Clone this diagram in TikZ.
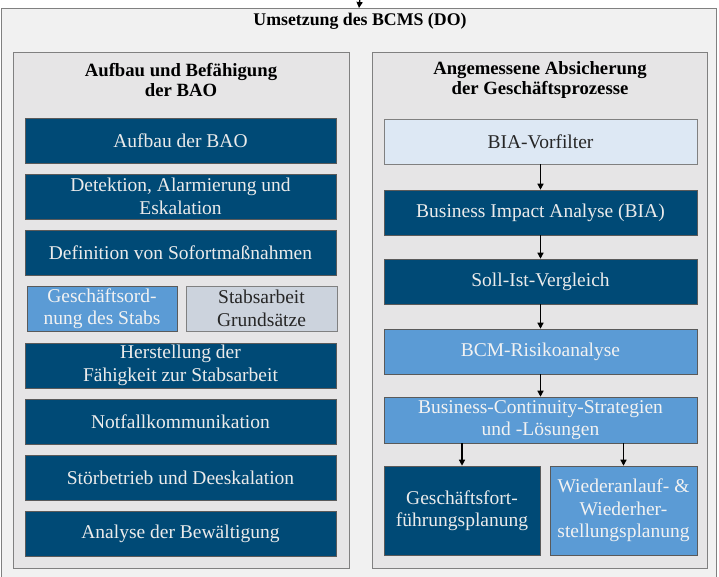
\documentclass[tikz,border=0pt]{standalone}
\usepackage{fontspec}
\setmainfont{Liberation Serif}
\usetikzlibrary{arrows.meta}
\definecolor{darkblue}{RGB}{0,74,118}
\definecolor{midblue}{RGB}{91,155,213}
\definecolor{paleblue}{RGB}{221,232,244}
\definecolor{palegray}{RGB}{204,211,221}
\definecolor{panelfill}{RGB}{230,229,230}
\definecolor{outerfill}{RGB}{241,241,241}
\definecolor{framegray}{RGB}{128,128,128}
\begin{document}
\begin{tikzpicture}[x=1pt,y=-1pt,
  every node/.style={font=\fontsize{19.5}{22.5}\selectfont, align=center, inner sep=0pt},
  frame/.style={draw=framegray, line width=1pt, fill=panelfill},
  darkbox/.style={draw=framegray!70!black, line width=0.6pt, fill=darkblue, text=white!92!black},
  midbox/.style={draw=framegray!70!black, line width=0.6pt, fill=midblue, text=white!95!black},
  palebox/.style={draw=framegray, line width=0.6pt, fill=paleblue, text=black!85},
  graybox/.style={draw=framegray, line width=0.6pt, fill=palegray, text=black!85},
  wide/.style={minimum width=311pt, minimum height=45pt},
  rwide/.style={minimum width=313pt, minimum height=45pt},
  title/.style={font=\bfseries\fontsize{18.7}{20.5}\selectfont},
  flow/.style={-{Triangle[length=6pt,width=6pt]}, line width=1.3pt, black}]
\useasboundingbox (0,0) rectangle (719,576);
\fill[white] (0,0) rectangle (719,576);

% outer frame, running past the lower edge
\node[draw=framegray, line width=1pt, fill=outerfill, minimum width=715pt, minimum height=582pt, anchor=north west] (outer) at (1,8) {};
\coordinate (topin) at (360,-2);
\draw[flow] (topin) -- (outer.north);
\node[title, font=\bfseries\fontsize{17.8}{20}\selectfont] (maintitle) at (360,21) {Umsetzung des BCMS (DO)};

% two panels
\node[frame, minimum width=336pt, minimum height=516pt, anchor=north west] (left) at (13,52) {};
\node[frame, minimum width=335pt, minimum height=516pt, anchor=north west] (right) at (372,52) {};
\node[title] (lefttitle) at (181,80) {Aufbau und Befähigung\\der BAO};
\node[title] (righttitle) at (540,80) {Angemessene Absicherung\\der Geschäftsprozesse};

% left column
\node[darkbox, wide] (a1) at (180.5,140.5) {Aufbau der BAO};
\node[darkbox, wide] (a2) at (180.5,196.5) {Detektion, Alarmierung und\\Eskalation};
\node[darkbox, wide] (a3) at (180.5,252.5) {Definition von Sofortmaßnahmen};
\node[midbox, minimum width=150pt, minimum height=45pt] (a4) at (102,308.5) {Geschäftsord-\\nung des Stabs};
\node[graybox, minimum width=151pt, minimum height=45pt] (a5) at (261.5,308.5) {Stabsarbeit\\Grundsätze};
\node[darkbox, wide] (a6) at (180.5,365.5) {Herstellung der\\Fähigkeit zur Stabsarbeit};
\node[darkbox, wide] (a7) at (180.5,421.5) {Notfallkommunikation};
\node[darkbox, wide] (a8) at (180.5,477.5) {Störbetrieb und Deeskalation};
\node[darkbox, wide] (a9) at (180.5,533.5) {Analyse der Bewältigung};

% right column
\node[palebox, rwide] (b1) at (540.5,141.5) {BIA-Vorfilter};
\node[darkbox, rwide] (b2) at (540.5,212.5) {Business Impact Analyse (BIA)};
\node[darkbox, rwide] (b3) at (540.5,281.5) {Soll-Ist-Vergleich};
\node[midbox, rwide] (b4) at (540.5,351.5) {BCM-Risikoanalyse};
\node[midbox, minimum width=313pt, minimum height=46pt] (b5) at (540.5,420) {Business-Continuity-Strategien\\und -Lösungen};
\node[darkbox, minimum width=156pt, minimum height=89pt] (b6) at (462,510.5) {Geschäftsfort-\\führungsplanung};
\node[midbox, minimum width=147pt, minimum height=89pt] (b7) at (623.5,510.5) {Wiederanlauf- \&\\Wiederher-\\stellungsplanung};

% flow arrows
\draw[flow] (b1) -- (b2);
\draw[flow] (b2) -- (b3);
\draw[flow] (b3) -- (b4);
\draw[flow] (b4) -- (b5);
\draw[flow] (b5.south -| b6) -- (b6);
\draw[flow] (b5.south -| b7) -- (b7);
\end{tikzpicture}
\end{document}
